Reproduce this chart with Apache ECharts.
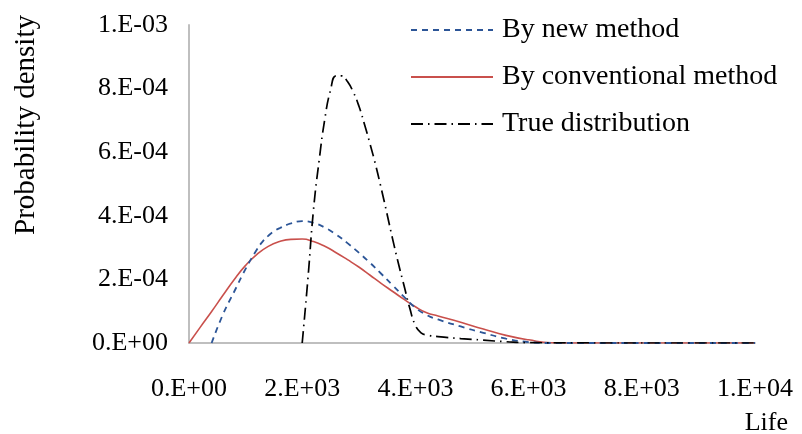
<!DOCTYPE html>
<html>
<head>
<meta charset="utf-8">
<script src="https://cdn.jsdelivr.net/npm/echarts@6/dist/echarts.min.js"></script>
<style>
  html, body { margin: 0; padding: 0; background: #fff; }
  #chart { width: 802px; height: 434px; }
</style>
</head>
<body>
<div id="chart"></div>
<script>
// Life values (x) and probability densities (y) for each curve
const newLife = [400, 600, 800, 1000, 1200, 1300, 1400, 1500, 1600, 1800, 2000, 2200, 2400, 2600, 2800, 3000, 3200, 3400, 3600, 3800, 4000, 4200, 4400, 4800, 5200, 5600, 6000, 6400, 8000, 10000];
const newDensity = [0, 0.000090, 0.000162, 0.000233, 0.000294, 0.000319, 0.000337, 0.000351, 0.000361, 0.000376, 0.000383, 0.000378, 0.000363, 0.000341, 0.000314, 0.000284, 0.000252, 0.000217, 0.000181, 0.000145, 0.000111, 0.000088, 0.000074, 0.000052, 0.000032, 0.000014, 0.000003, 0, 0, 0];

const convLife = [0, 200, 400, 600, 800, 1000, 1200, 1400, 1600, 1800, 2000, 2200, 2400, 2600, 2800, 3000, 3200, 3400, 3600, 3800, 4000, 4200, 4400, 4800, 5200, 5600, 6000, 6400, 7000, 8000, 10000];
const convDensity = [0, 0.000050, 0.000099, 0.000150, 0.000200, 0.000244, 0.000279, 0.000304, 0.000319, 0.000326, 0.000327, 0.000319, 0.000304, 0.000284, 0.000262, 0.000239, 0.000213, 0.000187, 0.000162, 0.000137, 0.000114, 0.000095, 0.000085, 0.000065, 0.000044, 0.000024, 0.000010, 0.000001, 0, 0, 0];

const trueLife = [2000, 2100, 2200, 2300, 2400, 2500, 2600, 2700, 2800, 2900, 3000, 3100, 3200, 3300, 3400, 3500, 3600, 3700, 3800, 3900, 4000, 4100, 4200, 4400, 4800, 5200, 5600, 6000, 8000, 10000];
const trueDensity = [0, 0.000200, 0.000420, 0.000575, 0.000705, 0.000795, 0.000840, 0.000840, 0.000822, 0.000790, 0.000746, 0.000688, 0.000625, 0.000558, 0.000483, 0.000405, 0.000325, 0.000250, 0.000180, 0.000110, 0.000055, 0.000032, 0.000025, 0.000020, 0.000014, 0.000009, 0.000004, 0.000001, 0, 0];

const seriesNames = ['By new method', 'By conventional method', 'True distribution'];

const FONT = "'Times New Roman', 'Liberation Serif', serif";

function pairs(xs, ys) {
  return xs.map((x, i) => [x, ys[i]]);
}

// Excel-style scientific labels such as 2.E+03 or 4.E-04
function sci(v) {
  const s = Number(v).toExponential(0);
  const m = s.split('e');
  const exp = parseInt(m[1], 10);
  const sign = exp < 0 ? '-' : '+';
  const digits = String(Math.abs(exp)).padStart(2, '0');
  return m[0] + '.E' + sign + digits;
}

const chart = echarts.init(document.getElementById('chart'), null, { renderer: 'canvas' });

chart.setOption({
  animation: false,
  backgroundColor: '#ffffff',
  textStyle: { fontFamily: FONT },
  grid: { left: 189, right: 47, top: 25, bottom: 91, containLabel: false },
  legend: {
    orient: 'vertical',
    left: 405,
    top: 1.5,
    itemWidth: 82,
    itemHeight: 14,
    itemGap: 0,
    itemStyle: { opacity: 0 },
    textStyle: { fontFamily: FONT, fontSize: 28, color: '#000', lineHeight: 47, padding: [0, 0, 0, 4] },
    data: seriesNames
  },
  xAxis: {
    type: 'value',
    min: 0,
    max: 10000,
    interval: 2000,
    axisLine: { show: true, lineStyle: { color: '#BFBFBF', width: 2 } },
    axisTick: { show: false },
    splitLine: { show: false },
    axisLabel: { formatter: sci, fontFamily: FONT, fontSize: 26, color: '#000', margin: 33 }
  },
  yAxis: {
    type: 'value',
    min: 0,
    max: 0.001,
    interval: 0.0002,
    axisLine: { show: true, lineStyle: { color: '#BFBFBF', width: 2 } },
    axisTick: { show: false },
    splitLine: { show: false },
    axisLabel: { formatter: sci, fontFamily: FONT, fontSize: 26, color: '#000', margin: 21 }
  },
  graphic: [
    {
      type: 'text',
      x: 26,
      y: 125,
      rotation: Math.PI / 2,
      style: {
        text: 'Probability density',
        fontFamily: FONT,
        fontSize: 29,
        fill: '#000',
        align: 'center',
        verticalAlign: 'middle'
      }
    },
    {
      type: 'text',
      right: 14,
      top: 410,
      style: {
        text: 'Life',
        fontFamily: FONT,
        fontSize: 26,
        fill: '#000'
      }
    }
  ],
  series: [
    {
      name: seriesNames[0],
      type: 'line',
      smooth: 0.5,
      symbol: 'none',
      data: pairs(newLife, newDensity),
      lineStyle: { color: '#2C5597', width: 1.8, type: [6, 5] },
      itemStyle: { color: '#2C5597' },
      z: 3
    },
    {
      name: seriesNames[1],
      type: 'line',
      smooth: 0.5,
      symbol: 'none',
      data: pairs(convLife, convDensity),
      lineStyle: { color: '#C9504C', width: 1.6, type: 'solid' },
      itemStyle: { color: '#C9504C' },
      z: 2
    },
    {
      name: seriesNames[2],
      type: 'line',
      smooth: 0.5,
      symbol: 'none',
      data: pairs(trueLife, trueDensity),
      lineStyle: { color: '#000000', width: 1.7, type: [12, 5, 1.5, 5] },
      itemStyle: { color: '#000000' },
      z: 4
    }
  ]
});
</script>
</body>
</html>
